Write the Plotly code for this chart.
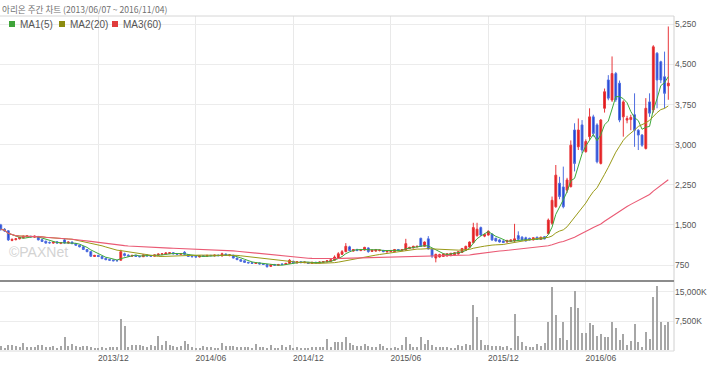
import pandas as pd
import plotly.graph_objects as go

# ---------------- data (weekly) ----------------
start_date = "2013-06-07"

opens = [
    1500, 1420, 1390, 1210, 1225, 1240, 1260, 1280, 1285, 1270,
    1285, 1225, 1195, 1170, 1160, 1185, 1155, 1220, 1160, 1180,
    1150, 1120, 1090, 1040, 1000, 910, 930, 910, 875, 855,
    845, 835, 840, 960, 935, 915, 930, 915, 905, 940,
    925, 915, 935, 950, 955, 965, 980, 965, 950, 990,
    945, 915, 910, 900, 925, 915, 930, 920, 935, 920,
    955, 925, 935, 880, 850, 830, 800, 795, 780, 790,
    775, 760, 725, 760, 745, 770, 760, 780, 820, 790,
    810, 795, 800, 780, 800, 790, 800, 810, 820, 840,
    880, 950, 1000, 1090, 1010, 1040, 1020, 1030, 1070, 1005,
    1010, 1020, 1025, 995, 1000, 1000, 1040, 1020, 1030, 1060,
    1070, 1090, 1250, 1100, 1240, 1050, 880, 900, 910, 920,
    925, 940, 955, 985, 1025, 1085, 1170, 1300, 1450, 1290,
    1310, 1330, 1250, 1220, 1200, 1180, 1190, 1200, 1300, 1270,
    1260, 1250, 1220, 1270, 1230, 1280, 1340, 1530, 1840, 2280,
    2210, 2150, 2215, 3275, 2960, 3370, 2870, 3150, 3520, 3370,
    2650, 3680, 4210, 3835, 4330, 4150, 3520, 3460, 3470, 3560,
    3270, 3180, 2930, 3800, 3650, 4710, 4550, 4270, 4100,
]
highs = [
    1520, 1440, 1400, 1245, 1250, 1275, 1300, 1305, 1300, 1300,
    1290, 1240, 1205, 1190, 1190, 1195, 1180, 1250, 1190, 1190,
    1160, 1130, 1100, 1050, 1010, 940, 940, 915, 885, 865,
    850, 845, 1035, 980, 950, 940, 940, 925, 945, 950,
    935, 945, 965, 970, 985, 990, 990, 975, 975, 1010,
    950, 925, 920, 930, 935, 940, 940, 945, 945, 980,
    965, 950, 940, 890, 860, 835, 810, 805, 800, 795,
    785, 765, 760, 770, 770, 780, 790, 860, 830, 820,
    820, 815, 805, 810, 810, 815, 825, 840, 860, 930,
    990, 1030, 1160, 1110, 1050, 1055, 1050, 1090, 1080, 1040,
    1050, 1040, 1030, 1020, 1030, 1050, 1050, 1050, 1240, 1090,
    1110, 1110, 1260, 1190, 1290, 1060, 960, 960, 965, 970,
    975, 990, 1010, 1065, 1110, 1190, 1540, 1540, 1470, 1340,
    1400, 1340, 1260, 1240, 1210, 1220, 1230, 1520, 1380, 1290,
    1280, 1260, 1270, 1280, 1280, 1290, 1620, 2030, 2620, 2400,
    2590, 2380, 3080, 3400, 3490, 3460, 3100, 3680, 3560, 3400,
    3480, 4050, 4300, 4650, 4360, 4200, 3830, 3540, 3560, 3960,
    3290, 3200, 3870, 3960, 4860, 4730, 4570, 4740, 5210,
]
lows = [
    1390, 1370, 1200, 1195, 1210, 1230, 1250, 1265, 1260, 1260,
    1210, 1180, 1150, 1150, 1150, 1150, 1140, 1150, 1150, 1140,
    1110, 1080, 1030, 990, 900, 900, 900, 860, 840, 830,
    820, 815, 835, 910, 905, 905, 900, 895, 900, 910,
    905, 910, 925, 935, 945, 955, 950, 940, 940, 940,
    900, 895, 890, 895, 905, 905, 915, 910, 915, 910,
    925, 915, 875, 845, 815, 795, 780, 770, 770, 760,
    750, 700, 715, 735, 740, 750, 755, 775, 785, 780,
    785, 785, 770, 770, 780, 780, 790, 800, 815, 835,
    870, 940, 990, 1010, 1000, 1010, 1010, 1020, 980, 995,
    1000, 1005, 990, 985, 990, 995, 1010, 1010, 1020, 1050,
    1060, 1080, 1090, 1090, 1040, 880, 800, 890, 900, 910,
    915, 930, 945, 975, 1015, 1075, 1150, 1280, 1290, 1270,
    1300, 1200, 1190, 1170, 1160, 1170, 1180, 1180, 1220, 1210,
    1190, 1210, 1210, 1220, 1220, 1230, 1320, 1500, 1820, 1980,
    1810, 2100, 2200, 2500, 2900, 2840, 2850, 3090, 3150, 2650,
    2630, 3600, 3830, 3800, 3800, 3420, 3150, 3400, 3270, 2960,
    2900, 2960, 2910, 3520, 3600, 3680, 4150, 3680, 3840,
]
closes = [
    1420, 1385, 1220, 1230, 1240, 1265, 1290, 1295, 1280, 1290,
    1220, 1190, 1160, 1165, 1180, 1160, 1170, 1160, 1180, 1150,
    1120, 1090, 1040, 1000, 915, 930, 910, 870, 850, 840,
    830, 830, 1000, 930, 920, 930, 910, 905, 940, 920,
    915, 940, 955, 960, 975, 980, 960, 950, 965, 950,
    910, 905, 900, 920, 915, 930, 925, 935, 925, 960,
    930, 940, 880, 850, 820, 800, 790, 780, 790, 770,
    760, 720, 750, 745, 760, 760, 780, 840, 790, 810,
    795, 805, 780, 800, 790, 805, 815, 830, 850, 900,
    960, 1000, 1100, 1020, 1040, 1020, 1040, 1080, 1000, 1030,
    1040, 1030, 1000, 1010, 1020, 1040, 1020, 1040, 1150, 1080,
    1100, 1100, 1100, 1180, 1050, 920, 950, 945, 955, 960,
    970, 980, 1000, 1060, 1100, 1180, 1450, 1420, 1310, 1320,
    1380, 1220, 1200, 1180, 1170, 1210, 1220, 1240, 1230, 1220,
    1200, 1220, 1260, 1230, 1270, 1240, 1590, 1960, 2430, 2030,
    1840, 2340, 2990, 2650, 3275, 2900, 3060, 3520, 3210, 2680,
    3460, 3990, 3870, 4330, 3840, 3460, 3800, 3490, 3510, 3270,
    3180, 2990, 3680, 3590, 4830, 4210, 4210, 3960, 4150,
]
# weekly volume, thousands of shares
volumes_k = [
    1050, 700, 1480, 1300, 1220, 780, 1920, 960, 870, 870,
    1400, 1480, 780, 870, 1130, 700, 1130, 3490, 1130, 1570,
    1050, 960, 1130, 1130, 870, 700, 700, 780, 700, 780,
    870, 780, 7940, 6280, 870, 1480, 1400, 1300, 1130, 960,
    1480, 1130, 3660, 1300, 2350, 1300, 1130, 870, 1050, 2350,
    1660, 780, 700, 700, 1050, 870, 870, 700, 700, 1830,
    1130, 1050, 1130, 960, 960, 870, 870, 700, 1660, 870,
    870, 700, 1480, 700, 700, 1300, 960, 1300, 700, 870,
    700, 700, 610, 870, 870, 960, 960, 2790, 870, 2180,
    2180, 2000, 3310, 1920, 1400, 1050, 1130, 1570, 1130, 780,
    870, 1740, 1050, 700, 700, 870, 700, 1300, 3310, 1570,
    960, 870, 3490, 1660, 2700, 1400, 870, 780, 780, 870,
    700, 700, 1480, 1220, 1660, 1300, 11600, 8460, 2530, 1300,
    1300, 1130, 1050, 1050, 960, 1050, 700, 9240, 3660, 2180,
    1050, 870, 960, 1660, 1050, 1920, 7150, 16130, 8980, 3230,
    7150, 2700, 11160, 15260, 10730, 4450, 4450, 6980, 6370, 3750,
    4270, 3490, 3490, 7150, 5670, 2700, 4100, 1300, 2350, 6800,
    2180, 960, 4620, 2960, 13690, 16480, 7150, 6450, 7150,
]

price_ticks = [750, 1500, 2250, 3000, 3750, 4500, 5250]
volume_ticks = [7500, 15000]
volume_tick_labels = ["7,500K", "15,000K"]
month_tick_index = [26, 52, 78, 104, 130, 156]
month_tick_labels = ["2013/12", "2014/06", "2014/12", "2015/06", "2015/12", "2016/06"]
ma_windows = [5, 20, 60]
ma_names = ["MA1(5)", "MA2(20)", "MA3(60)"]

title_text = "아리온 주간 차트 (2013/06/07 ~ 2016/11/04)"

# ---------------- derived ----------------
dates = pd.date_range(start_date, periods=len(closes), freq="7D")
close_s = pd.Series(closes, index=dates)
mas = [close_s.rolling(w, min_periods=1).mean() for w in ma_windows]

ma_colors = ["#3ea83a", "#9a9a18", "#ea5a74"]
swatch_colors = ["#3fa43a", "#8c8c10", "#e03c3c"]

# pixel geometry
W, H = 720, 367
ML, MR, MT, MB = 0, 46, 16, 16
PW, PH = W - ML - MR, H - MT - MB  # 674 x 335


def py(pix_y):
    """page pixel y -> paper y"""
    return (H - MB - pix_y) / PH


def px(pix_x):
    return (pix_x - ML) / PW


week = pd.Timedelta(days=7)
x0 = dates[0] - week * (0.8 / 3.75)
x1 = dates[0] + week * ((PW - 0.8) / 3.75)

fig = go.Figure()

# moving averages (drawn below candles)
for s, name, col, lw in zip(mas, ma_names, ma_colors, [1, 1, 1.1]):
    fig.add_trace(go.Scatter(
        x=dates, y=s.values, mode="lines", name=name,
        line=dict(color=col, width=lw), xaxis="x", yaxis="y",
        showlegend=False, hoverinfo="skip"))

fig.add_trace(go.Candlestick(
    x=dates, open=opens, high=highs, low=lows, close=closes,
    increasing=dict(line=dict(color="#e8363a", width=1), fillcolor="#e01a1a"),
    decreasing=dict(line=dict(color="#4f6ee0", width=1), fillcolor="#1c3ed2"),
    whiskerwidth=0, xaxis="x", yaxis="y", showlegend=False, name="아리온"))

fig.add_trace(go.Bar(
    x=dates, y=volumes_k, marker=dict(color="#a6a6a6", line=dict(width=0)),
    width=[3.9 * 86400000] * len(dates),
    xaxis="x", yaxis="y2", showlegend=False, name="거래량"))

tick_font = dict(family="Liberation Sans, Arial, sans-serif", size=8.5, color="#555555")

fig.update_layout(
    width=W, height=H,
    margin=dict(l=ML, r=MR, t=MT, b=MB),
    paper_bgcolor="white", plot_bgcolor="white",
    showlegend=False,
    bargap=0,
    xaxis=dict(
        type="date", range=[x0, x1], anchor="y2",
        tickvals=[dates[i] for i in month_tick_index],
        ticktext=month_tick_labels,
        ticklabelshift=15,
        showgrid=True, gridcolor="#e9e9e9", gridwidth=1,
        zeroline=False, showline=False, ticks="",
        tickfont=tick_font,
        rangeslider=dict(visible=False),
    ),
    yaxis=dict(
        domain=[py(280), 1], range=[470, 5406], side="right",
        tickvals=price_ticks, tickformat=",d",
        showgrid=True, gridcolor="#ececec", zeroline=False, showline=False,
        ticks="", tickfont=tick_font,
    ),
    yaxis2=dict(
        domain=[0, py(282)], range=[-179, 17483], side="right",
        tickvals=volume_ticks, ticktext=volume_tick_labels,
        showgrid=True, gridcolor="#ececec", zeroline=False, showline=False,
        ticks="", tickfont=tick_font,
    ),
)

shapes = [
    # top border of price panel
    dict(type="line", xref="paper", yref="paper", x0=0, x1=1, y0=1, y1=1,
         line=dict(color="#d6d6d6", width=1)),
    # right border
    dict(type="line", xref="paper", yref="paper", x0=1, x1=1, y0=0, y1=1,
         line=dict(color="#d0d0d0", width=1)),
    # separator between panels
    dict(type="line", xref="paper", yref="paper", x0=0, x1=1, y0=py(281), y1=py(281),
         line=dict(color="#8c8c8c", width=2)),
    # bottom border of volume panel
    dict(type="line", xref="paper", yref="paper", x0=0, x1=1, y0=0, y1=0,
         line=dict(color="#dcdcdc", width=1)),
]

# legend swatches
legend_x = [9, 59, 112]
for lx, col in zip(legend_x, swatch_colors):
    shapes.append(dict(type="rect", xref="paper", yref="paper",
                       x0=px(lx), x1=px(lx + 6), y0=py(27), y1=py(21),
                       fillcolor=col, line=dict(width=0)))
fig.update_layout(shapes=shapes)

annotations = [
    dict(text=title_text, xref="paper", yref="paper", x=px(0), y=py(9),
         xanchor="left", yanchor="middle", showarrow=False,
         font=dict(family="Noto Sans CJK KR, sans-serif", size=8.6, color="#707070")),
    dict(text="©PAXNet", xref="paper", yref="paper", x=px(7), y=py(252),
         xanchor="left", yanchor="middle", showarrow=False,
         font=dict(family="Liberation Sans, Arial, sans-serif", size=14, color="#d3d3d3")),
]
for lx, name in zip(legend_x, ma_names):
    annotations.append(dict(text=name, xref="paper", yref="paper", x=px(lx + 9), y=py(24),
                            xanchor="left", yanchor="middle", showarrow=False,
                            font=dict(family="Liberation Sans, Arial, sans-serif",
                                      size=10, color="#555555")))
fig.update_layout(annotations=annotations)

fig.write_html("out.html",
               config={"displayModeBar": False},
               post_script="document.body.style.margin='0';document.body.style.overflow='hidden';")
